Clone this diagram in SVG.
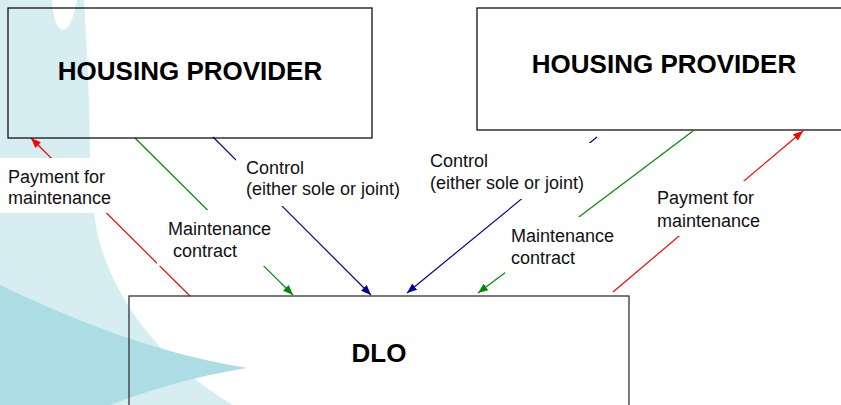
<svg xmlns="http://www.w3.org/2000/svg" width="841" height="405" viewBox="0 0 841 405">
<style>
.box{fill:none;stroke:#111;stroke-width:1.3}
.title{font-family:"Liberation Sans",Arial,sans-serif;font-weight:bold;font-size:26px;fill:#000;text-anchor:middle}
.lbl{font-family:"Liberation Sans",Arial,sans-serif;font-size:18px;fill:#111}
.lbg{fill:#fff}
.red{stroke:#ff0000;stroke-width:1.2;fill:none}
.green{stroke:#008a00;stroke-width:1.2;fill:none}
.blue{stroke:#00009c;stroke-width:1.2;fill:none}
</style>
<defs>
<marker id="ar" markerUnits="userSpaceOnUse" markerWidth="10" markerHeight="8" refX="10" refY="4" orient="auto"><path d="M0,0 L10,4 L0,8 Z" fill="#ff0000"/></marker>
<marker id="ag" markerUnits="userSpaceOnUse" markerWidth="10" markerHeight="8" refX="10" refY="4" orient="auto"><path d="M0,0 L10,4 L0,8 Z" fill="#008a00"/></marker>
<marker id="ab" markerUnits="userSpaceOnUse" markerWidth="10" markerHeight="8" refX="10" refY="4" orient="auto"><path d="M0,0 L10,4 L0,8 Z" fill="#00009c"/></marker>
</defs>
<rect width="841" height="405" fill="#fff"/>
<g id="background">
<path d="M0,0 L84,0 C87,50 90,110 90,158 L90,213 L94,213 C100,270 140,350 233,405 L0,405 Z" fill="#d6eef2"/>
<path d="M52,0 L77,0 C74,14 70,30 63,30 C56,30 53,14 52,0 Z" fill="#fff"/>
<path d="M0,285 C70,318 150,352 247,368 C190,377 145,392 110,405 L0,405 Z" fill="#acdde4"/>
</g>
<g id="connectors">
<path class="red" d="M190,296 L31,138" marker-end="url(#ar)"/>
<path class="green" d="M135,138 L293,295" marker-end="url(#ag)"/>
<path class="blue" d="M213,137 L371,295" marker-end="url(#ab)"/>
<path class="blue" d="M597,137 L407,293" marker-end="url(#ab)"/>
<path class="green" d="M693,131 L478,293" marker-end="url(#ag)"/>
<path class="red" d="M613,292 L803,131" marker-end="url(#ar)"/>
</g>
<g id="labels">
<g id="lbl-payment-left"><rect class="lbg" x="0" y="158" width="115" height="55"/><text class="lbl" x="8" y="183">Payment for</text><text class="lbl" x="8" y="204">maintenance</text></g>
<g id="lbl-control-left"><rect class="lbg" x="236" y="159" width="172" height="47"/><text class="lbl" x="246" y="174">Control</text><text class="lbl" x="246" y="195">(either sole or joint)</text></g>
<g id="lbl-maint-left"><rect class="lbg" x="157" y="210" width="120" height="56"/><text class="lbl" x="168" y="235">Maintenance</text><text class="lbl" x="173" y="257">contract</text></g>
<g id="lbl-control-right"><rect class="lbg" x="425" y="143" width="168" height="56"/><text class="lbl" x="430" y="167">Control</text><text class="lbl" x="430" y="189">(either sole or joint)</text></g>
<g id="lbl-maint-right"><rect class="lbg" x="505" y="217" width="115" height="56"/><text class="lbl" x="511" y="242">Maintenance</text><text class="lbl" x="511" y="264">contract</text></g>
<g id="lbl-payment-right"><rect class="lbg" x="652" y="181" width="116" height="55"/><text class="lbl" x="657" y="204">Payment for</text><text class="lbl" x="657" y="227">maintenance</text></g>
</g>
<g id="hp-left"><rect class="box" x="8" y="8" width="364" height="130"/><text class="title" x="190" y="80">HOUSING PROVIDER</text></g>
<g id="hp-right"><rect class="box" x="477" y="8" width="374" height="122"/><text class="title" x="664" y="73">HOUSING PROVIDER</text></g>
<g id="dlo"><rect class="box" x="129" y="296" width="500" height="130" style="stroke:#333"/><text class="title" x="379" y="362">DLO</text></g>
</svg>
